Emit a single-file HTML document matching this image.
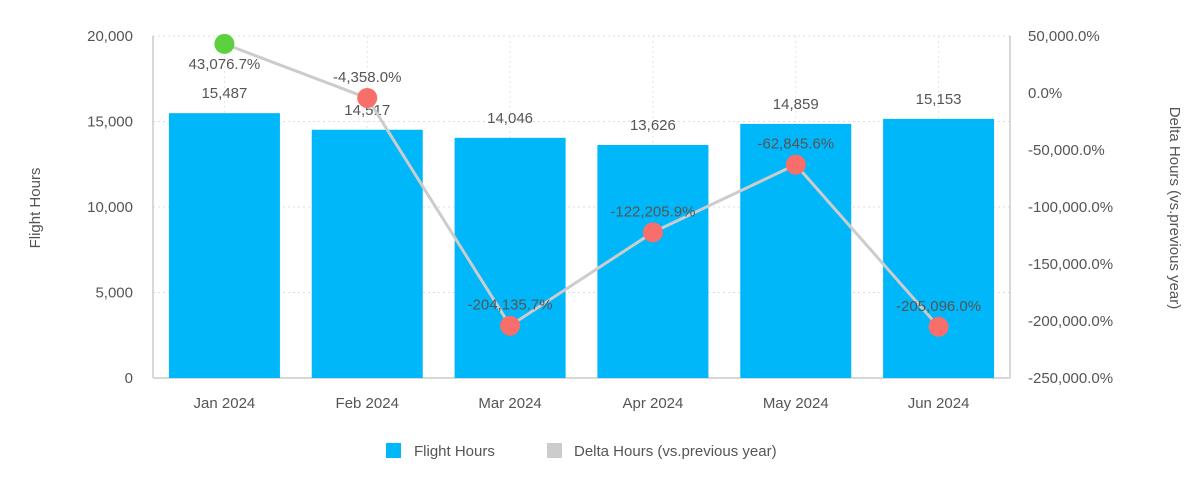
<!DOCTYPE html>
<html><head><meta charset="utf-8"><style>
body{margin:0;background:#fff;font-family:"Liberation Sans",sans-serif;}
svg text{font-family:"Liberation Sans",sans-serif;fill:#555;}
</style></head><body>
<svg id="chart" width="1200" height="472" xmlns="http://www.w3.org/2000/svg"></svg>
<script>
const categories=["Jan 2024","Feb 2024","Mar 2024","Apr 2024","May 2024","Jun 2024"];
const flightHours=[15487,14517,14046,13626,14859,15153];
const deltaPct=[43076.7,-4358.0,-204135.7,-122205.9,-62845.6,-205096.0];
const leftTicks=[0,5000,10000,15000,20000];
const rightTicks=[50000,0,-50000,-100000,-150000,-200000,-250000];
const svg=document.getElementById('chart');
const NS="http://www.w3.org/2000/svg";
const L=153,R=1010,T=36,B=378;
const band=(R-L)/categories.length;
const xC=i=>L+band*(i+0.5);
const yL=v=>B-(v/20000)*(B-T);
const yR=v=>B-((v+250000)/300000)*(B-T);
function mk(tag,attrs,parent){const e=document.createElementNS(NS,tag);for(const k in attrs)e.setAttribute(k,attrs[k]);(parent||svg).appendChild(e);return e;}
const fmt=v=>v.toLocaleString('en-US');
const fmtP=v=>v.toLocaleString('en-US',{minimumFractionDigits:1,maximumFractionDigits:1})+'%';
// grid
leftTicks.forEach(t=>{
 const g=mk('line',{x1:L,x2:R,y1:yL(t),y2:yL(t),stroke:'#ddd','stroke-dasharray':'2,3'});
 
 
 const tx=mk('text',{x:L-20,y:yL(t)+5,'text-anchor':'end','font-size':15});
 tx.textContent=fmt(t);
 
 
});
rightTicks.forEach(t=>{
 const tx=mk('text',{x:1028,y:yR(t)+5,'font-size':15});
 tx.textContent=fmtP(t);
 
 
});
categories.forEach((c,i)=>{
 const gl=mk('line',{x1:xC(i),x2:xC(i),y1:T,y2:B,stroke:'#e4e4e4','stroke-dasharray':'2,3'});
 
 
});
// axes
[[L,T,L,B],[R,T,R,B],[L,B,R,B]].forEach(a=>{
 const l=mk('line',{x1:a[0],y1:a[1],x2:a[2],y2:a[3],stroke:'#ccc','stroke-width':1.5});
 
 
});
// bars
const bw=111;
flightHours.forEach((v,i)=>{
 const r=mk('rect',{x:xC(i)-bw/2,y:yL(v),width:bw,height:B-yL(v),fill:'#00b7f9'});
 
 
 const t=mk('text',{x:xC(i),y:yL(v)-15,'text-anchor':'middle','font-size':15});
 t.textContent=fmt(v);
 
 
 const xl=mk('text',{x:xC(i),y:B+30,'text-anchor':'middle','font-size':15});
 xl.textContent=categories[i];
 
 
});
// line
const pts=deltaPct.map((v,i)=>xC(i)+','+yR(v)).join(' ');
const pl=mk('polyline',{points:pts,fill:'none',stroke:'#ccc','stroke-width':3});


deltaPct.forEach((v,i)=>{
 const c=mk('circle',{cx:xC(i),cy:yR(v),r:10,fill:v>=0?'#5cd13f':'#f76e6b'});
 
 
 const below=i===0;
 const t=mk('text',{x:xC(i),y:below?yR(v)+25:yR(v)-16,'text-anchor':'middle','font-size':15});
 t.textContent=fmtP(v);
 
 
});
// axis titles
const lt=mk('text',{x:40,y:208,'text-anchor':'middle','font-size':15,transform:'rotate(-90 40 208)'});
lt.textContent='Flight Hours';


const rt=mk('text',{x:1170,y:208,'text-anchor':'middle','font-size':15,transform:'rotate(90 1170 208)'});
rt.textContent='Delta Hours (vs.previous year)';


// legend
const s1=mk('rect',{x:386,y:443,width:15,height:15,fill:'#00b7f9'});


const l1=mk('text',{x:414,y:456,'font-size':15});
l1.textContent='Flight Hours';


const s2=mk('rect',{x:547,y:443,width:15,height:15,fill:'#ccc'});


const l2=mk('text',{x:574,y:456,'font-size':15});
l2.textContent='Delta Hours (vs.previous year)';


</script>
</body></html>
